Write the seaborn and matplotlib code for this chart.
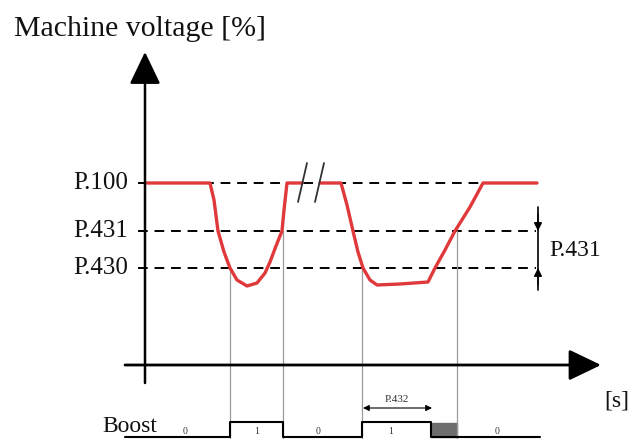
import numpy as np
import pandas as pd
import seaborn as sns
import matplotlib
matplotlib.use('Agg')
import matplotlib.pyplot as plt

# coordonnees en pixels de l'image (y vers le bas)
level_names = ["P.100", "P.431", "P.430"]
level_y = [183, 231, 268]

# courbe de tension, avant et apres la coupure
seg1_t = [147, 210, 214, 218, 224, 230, 237, 247, 257, 265, 270, 276, 282, 284, 287, 302]
seg1_v = [183, 183, 200, 231, 252, 268, 280, 286, 283, 273, 262, 246, 231, 210, 183, 183]
seg2_t = [320, 341, 347, 353, 358, 363, 370, 377, 400, 428, 435, 445, 455, 470, 483, 537]
seg2_v = [183, 183, 205, 231, 252, 268, 280, 285, 284, 282, 268, 250, 231, 207, 183, 183]

# instants de changement du signal Boost
event_t = [230, 283, 362, 457]
event_top = [268, 231, 268, 231]
boost_t = [125, 230, 230, 283, 283, 362, 362, 431, 431, 540]
boost_s = [0, 0, 1, 1, 0, 0, 1, 1, 0, 0]
boost_labels = ["0", "1", "0", "1", "0"]
boost_label_t = [185, 257, 318, 391, 497]

sns.set_style("white")
plt.rcParams['font.family'] = ['Liberation Serif', 'DejaVu Serif']

fig = plt.figure(figsize=(6.34, 4.40), dpi=100)
ax = fig.add_axes([0, 0, 1, 1])
ax.set_xlim(0, 634)
ax.set_ylim(440, 0)
ax.set_axis_off()

red = "#e0393b"
ink = "#111111"

# lignes pointillees des niveaux
for name, y in zip(level_names, level_y):
    ax.plot([138, 536], [y, y], color="black", lw=1.4, dashes=(5, 3.5))
    ax.text(128, y, name, ha="right", va="center", fontsize=18, color=ink)

# lignes verticales grises
for t, top in zip(event_t, event_top):
    ax.plot([t, t], [top, 438], color="#9a9a9a", lw=0.9)

# courbe
df1 = pd.DataFrame({"t": seg1_t, "v": seg1_v})
df2 = pd.DataFrame({"t": seg2_t, "v": seg2_v})
sns.lineplot(data=df1, x="t", y="v", sort=False, color=red, lw=2.4, ax=ax)
sns.lineplot(data=df2, x="t", y="v", sort=False, color=red, lw=2.4, ax=ax)
ax.set_xlim(0, 634)
ax.set_ylim(440, 0)

# coupure //
ax.plot([298, 307], [202, 163], color="#333333", lw=1.3)
ax.plot([315, 324], [202, 163], color="#333333", lw=1.3)

# axes avec fleches
head = "-|>,head_length=1.25,head_width=0.6"
ax.annotate("", xy=(145, 52), xytext=(145, 383),
            arrowprops=dict(arrowstyle=head, mutation_scale=16, color="black",
                            lw=1.8, shrinkA=0, shrinkB=0))
ax.annotate("", xy=(601, 365), xytext=(125, 365),
            arrowprops=dict(arrowstyle=head, mutation_scale=16, color="black",
                            lw=2.0, shrinkA=0, shrinkB=0))
ax.text(14, 29, "Machine voltage [%]", ha="left", va="center", fontsize=21.5, color=ink)
ax.text(604, 401, "[s]", ha="left", va="center", fontsize=17, color=ink)

# cote P.431
ax.plot([538, 538], [207, 290], color="black", lw=1.2)
ax.annotate("", xy=(538, 231), xytext=(538, 214),
            arrowprops=dict(arrowstyle="-|>", mutation_scale=12, color="black", lw=1,
                            shrinkA=0, shrinkB=0))
ax.annotate("", xy=(538, 268), xytext=(538, 285),
            arrowprops=dict(arrowstyle="-|>", mutation_scale=12, color="black", lw=1,
                            shrinkA=0, shrinkB=0))
ax.text(549, 250, "P.431", ha="left", va="center", fontsize=17, color=ink)

# signal Boost
boost_y = [437 - 15 * s for s in boost_s]
ax.plot(boost_t, boost_y, color="black", lw=1.5)
ax.fill_between([431, 457], 423, 437, color="#6e6e6e")
for lab, t in zip(boost_labels, boost_label_t):
    ax.text(t, 431, lab, ha="center", va="center", fontsize=7, color="#333333")
ax.text(102, 426, "Boost", ha="left", va="center", fontsize=17, color=ink)

# cote P.432
ax.annotate("", xy=(363, 408), xytext=(432, 408),
            arrowprops=dict(arrowstyle="<|-|>", mutation_scale=9, color="black", lw=0.8,
                            shrinkA=0, shrinkB=0))
ax.text(397, 399, "P.432", ha="center", va="center", fontsize=8, color="#333333")

plt.savefig("out.png", dpi=100)
